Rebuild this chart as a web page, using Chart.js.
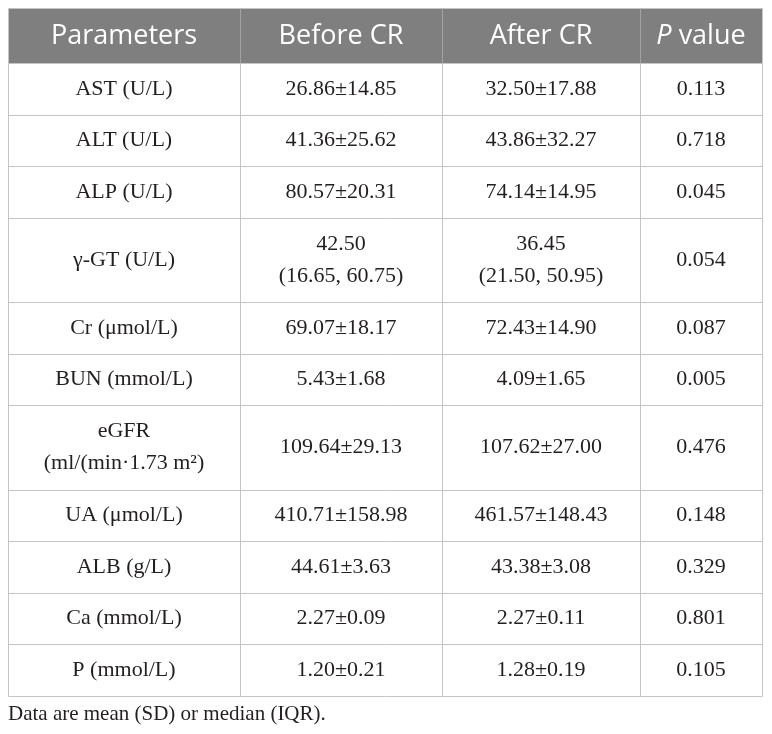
<!DOCTYPE html>
<html>
<head>
<meta charset="utf-8">
<script src="https://cdn.jsdelivr.net/npm/chart.js@4.4.1/dist/chart.umd.min.js"></script>
<style>
    html, body { margin: 0; padding: 0; background: #fff; }
    #wrap { position: relative; width: 772px; height: 734px; }
</style>
</head>
<body>
<div id="wrap"><canvas id="tableChart"></canvas></div>
<script>
// table content
const columns = ['Parameters', 'Before CR', 'After CR', 'P value'];
const parameters = ['AST (U/L)', 'ALT (U/L)', 'ALP (U/L)', 'γ-GT (U/L)', 'Cr (μmol/L)', 'BUN (mmol/L)',
    'eGFR\n(ml/(min·1.73 m²)', 'UA (μmol/L)', 'ALB (g/L)', 'Ca (mmol/L)', 'P (mmol/L)'];
const beforeCR = ['26.86±14.85', '41.36±25.62', '80.57±20.31', '42.50\n(16.65, 60.75)', '69.07±18.17', '5.43±1.68',
    '109.64±29.13', '410.71±158.98', '44.61±3.63', '2.27±0.09', '1.20±0.21'];
const afterCR = ['32.50±17.88', '43.86±32.27', '74.14±14.95', '36.45\n(21.50, 50.95)', '72.43±14.90', '4.09±1.65',
    '107.62±27.00', '461.57±148.43', '43.38±3.08', '2.27±0.11', '1.28±0.19'];
const pValues = ['0.113', '0.718', '0.045', '0.054', '0.087', '0.005', '0.476', '0.148', '0.329', '0.801', '0.105'];
const footnote = 'Data are mean (SD) or median (IQR).';

// layout (scale units = px inside the chart area)
const colWidths = [232, 202, 198, 122];
const headerHeight = 55;
const rowHeight = 51.6;
const extraLineHeight = 32.7;
const lineSpacing = 32;

const bodyColumns = [parameters, beforeCR, afterCR, pValues];

const rowHeights = [headerHeight].concat(parameters.map((_, i) =>
    rowHeight + (Math.max(...bodyColumns.map(c => c[i].split('\n').length)) - 1) * extraLineHeight));
const rowEdges = [0];
rowHeights.forEach(h => rowEdges.push(rowEdges[rowEdges.length - 1] + h));
const colEdges = [0];
colWidths.forEach(w => colEdges.push(colEdges[colEdges.length - 1] + w));
const tableWidth = colEdges[colEdges.length - 1];
const tableHeight = rowEdges[rowEdges.length - 1];

const datasets = columns.map((name, c) => ({
    label: name,
    data: [name].concat(bodyColumns[c]).map((text, r) => ({
        x: (colEdges[c] + colEdges[c + 1]) / 2,
        y: (rowEdges[r] + rowEdges[r + 1]) / 2,
        text: text,
        header: r === 0
    })),
    pointRadius: 0
}));

const tablePlugin = {
    id: 'tablePlugin',
    beforeDatasetsDraw(chart) {
        const ctx = chart.ctx;
        const xs = chart.scales.x, ys = chart.scales.y;
        const px = v => Math.round(xs.getPixelForValue(v)) + 0.5;
        const py = v => Math.round(ys.getPixelForValue(v)) + 0.5;
        ctx.save();
        // header band
        ctx.fillStyle = '#7f7f7f';
        ctx.fillRect(px(0), py(0), px(tableWidth) - px(0), py(headerHeight) - py(0));
        ctx.lineWidth = 1;
        // horizontal rules
        ctx.strokeStyle = '#c4c4c4';
        rowEdges.forEach(e => {
            ctx.beginPath();
            ctx.moveTo(px(0), py(e));
            ctx.lineTo(px(tableWidth), py(e));
            ctx.stroke();
        });
        // vertical rules
        colEdges.forEach((e, i) => {
            const inner = i > 0 && i < colEdges.length - 1;
            ctx.strokeStyle = inner ? '#a3a3a3' : '#c4c4c4';
            ctx.beginPath();
            ctx.moveTo(px(e), py(0));
            ctx.lineTo(px(e), py(headerHeight));
            ctx.stroke();
            ctx.strokeStyle = '#c4c4c4';
            ctx.beginPath();
            ctx.moveTo(px(e), py(headerHeight));
            ctx.lineTo(px(e), py(tableHeight));
            ctx.stroke();
        });
        ctx.restore();
    },
    afterDatasetsDraw(chart) {
        const ctx = chart.ctx;
        ctx.save();
        ctx.textBaseline = 'middle';
        chart.data.datasets.forEach((ds, i) => {
            chart.getDatasetMeta(i).data.forEach((pt, j) => {
                const cell = ds.data[j];
                if (cell.header) {
                    ctx.fillStyle = '#ffffff';
                    const regular = '27px "Open Sans"';
                    if (cell.text.startsWith('P ')) {
                        const rest = cell.text.slice(1);
                        ctx.font = 'italic ' + regular;
                        const w1 = ctx.measureText('P').width;
                        ctx.font = regular;
                        const w2 = ctx.measureText(rest).width;
                        let x0 = pt.x - (w1 + w2) / 2;
                        ctx.textAlign = 'left';
                        ctx.font = 'italic ' + regular;
                        ctx.fillText('P', x0, pt.y + 1);
                        ctx.font = regular;
                        ctx.fillText(rest, x0 + w1, pt.y + 1);
                    } else {
                        ctx.font = regular;
                        ctx.textAlign = 'center';
                        ctx.fillText(cell.text, pt.x, pt.y + 1);
                    }
                } else {
                    ctx.fillStyle = '#231f20';
                    ctx.font = '22px "Liberation Serif"';
                    ctx.textAlign = 'center';
                    const lines = cell.text.split('\n');
                    lines.forEach((line, k) => {
                        const y = pt.y + (k - (lines.length - 1) / 2) * lineSpacing;
                        ctx.fillText(line, pt.x, y);
                    });
                }
            });
        });
        // footnote under the table
        const ys = chart.scales.y, xs = chart.scales.x;
        ctx.fillStyle = '#231f20';
        ctx.font = '21px "Liberation Serif"';
        ctx.textAlign = 'left';
        ctx.fillText(footnote, xs.getPixelForValue(0), ys.getPixelForValue(tableHeight) + 18);
        ctx.restore();
    }
};

const chart = new Chart(document.getElementById('tableChart').getContext('2d'), {
    type: 'scatter',
    data: { datasets: datasets },
    options: {
        responsive: true,
        maintainAspectRatio: false,
        animation: false,
        events: [],
        layout: { padding: { left: 8, right: 10, top: 8, bottom: 38 } },
        scales: {
            x: { type: 'linear', min: 0, max: tableWidth, display: false },
            y: { type: 'linear', min: 0, max: tableHeight, reverse: true, display: false }
        },
        plugins: {
            legend: { display: false },
            tooltip: { enabled: false }
        }
    },
    plugins: [tablePlugin]
});
</script>
</body>
</html>
